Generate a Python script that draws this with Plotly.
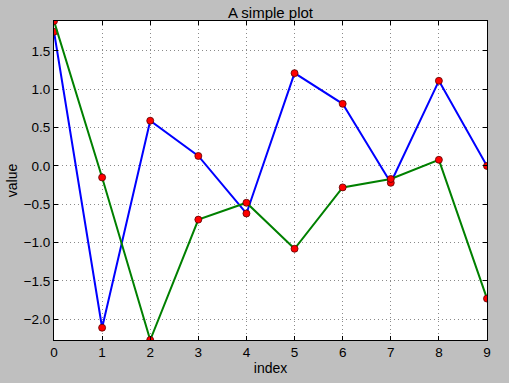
import plotly.graph_objects as go

index = list(range(10))
blue_values = [1.75, -2.11, 0.59, 0.13, -0.62, 1.21, 0.81, -0.22, 1.11, 0.00]
green_values = [1.89, -0.15, -2.27, -0.70, -0.48, -1.08, -0.28, -0.17, 0.08, -1.73]
y_ticks = [-2.0, -1.5, -1.0, -0.5, 0.0, 0.5, 1.0, 1.5]

marker = dict(color="#ff0000", size=7, line=dict(color="#5a0000", width=0.8))

fig = go.Figure()
fig.add_trace(go.Scatter(x=index, y=blue_values, mode="lines+markers",
                         line=dict(color="#0000ff", width=2), marker=marker))
fig.add_trace(go.Scatter(x=index, y=green_values, mode="lines+markers",
                         line=dict(color="#008000", width=2), marker=marker))

FONT = "Liberation Sans, Arial"
axis_common = dict(showline=True, linecolor="black", linewidth=1, mirror="allticks",
                   ticks="inside", ticklen=4, tickcolor="black",
                   showgrid=True, gridcolor="#8a8a8a", griddash="1px,3px", gridwidth=1,
                   zeroline=False, automargin=False,
                   tickfont=dict(family=FONT, size=13.5, color="black"))

fig.update_layout(
    width=509, height=383,
    paper_bgcolor="#bfbfbf", plot_bgcolor="white",
    margin=dict(l=54, r=22, t=21, b=43),
    showlegend=False,
    title=dict(text="A simple plot", x=0.5, xanchor="center", xref="paper",
               y=1, yref="paper", yanchor="bottom", pad=dict(b=3),
               font=dict(family=FONT, size=15, color="black")),
    font=dict(family=FONT, size=13, color="black"),
)
fig.update_xaxes(range=[0, 9], dtick=1, tick0=0,
                 title=dict(text="index", standoff=3, font=dict(size=14)), **axis_common)
fig.update_yaxes(range=[-2.27, 1.89], tickvals=y_ticks, tickformat=".1f",
                 title=dict(text="value", standoff=2, font=dict(size=14)), **axis_common)

fig.write_html("out.html", config={"displayModeBar": False},
               post_script="document.body.style.margin='0';")
